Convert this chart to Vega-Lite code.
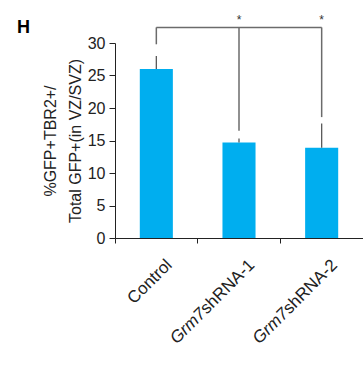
{
  "$schema": "https://vega.github.io/schema/vega-lite/v6.json",
  "width": 248,
  "height": 195,
  "autosize": {"type": "none"},
  "padding": {"left": 115, "top": 43, "right": 0, "bottom": 127},
  "config": {
    "view": {"stroke": null},
    "font": "Liberation Sans",
    "axisY": {"tickCount": 7, "labelOverlap": false, "grid": false, "labelFontSize": 16, "labelColor": "#222222", "labelPadding": 4, "tickSize": 6,
      "domainColor": "#222222", "tickColor": "#222222", "titleFontSize": 16, "titleFontWeight": "normal", "titleColor": "#222222", "titleLineHeight": 25, "titlePadding": 4}
  },
  "title": {"text": "H", "anchor": "start", "frame": "group", "fontSize": 18, "fontWeight": "bold", "font": "Liberation Sans", "dx": -98, "offset": 16, "dy": 39, "color": "#000000"},
  "datasets": {
    "bars": [
      {"group": "Control", "value": 26.0, "upper": 28.0},
      {"group": "Grm7shRNA-1", "value": 14.7, "upper": 15.3},
      {"group": "Grm7shRNA-2", "value": 13.9, "upper": 17.6}
    ],
    "bracket": [{"from": "Control", "to": "Grm7shRNA-2", "level": 32.4}],
    "legs": [
      {"group": "Control", "top": 32.4, "bottom": 29.8},
      {"group": "Grm7shRNA-1", "top": 32.4, "bottom": 16.5},
      {"group": "Grm7shRNA-2", "top": 32.4, "bottom": 18.6}
    ],
    "stars": [
      {"group": "Grm7shRNA-1", "level": 33.6, "sig": "*"},
      {"group": "Grm7shRNA-2", "level": 33.6, "sig": "*"}
    ],
    "labels": [
      {"group": "Control", "pre": "", "post": "Control"},
      {"group": "Grm7shRNA-1", "pre": "Grm7", "post": "shRNA-1"},
      {"group": "Grm7shRNA-2", "pre": "Grm7", "post": "shRNA-2"}
    ]
  },
  "layer": [
    {
      "data": {"name": "bars"},
      "mark": {"type": "bar", "color": "#00AEEF", "width": {"band": 0.4}, "clip": false},
      "encoding": {
        "x": {"field": "group", "type": "nominal",
          "scale": {"domain": ["Control", "Grm7shRNA-1", "Grm7shRNA-2"], "paddingInner": 0, "paddingOuter": 0},
          "axis": {"labels": false, "title": null, "bandPosition": 0, "tickSize": 5, "domainColor": "#222222", "tickColor": "#222222", "grid": false}},
        "y": {"field": "value", "type": "quantitative",
          "scale": {"domain": [0, 30], "nice": false},
          "axis": {"values": [0, 5, 10, 15, 20, 25, 30], "labelOverlap": false, "title": ["%GFP+TBR2+/", "Total GFP+(in VZ/SVZ)"]}}
      }
    },
    {
      "data": {"name": "bars"},
      "mark": {"type": "rule", "color": "#595959", "strokeWidth": 1.3, "clip": false},
      "encoding": {
        "x": {"field": "group", "type": "nominal"},
        "y": {"field": "value", "type": "quantitative"},
        "y2": {"field": "upper"}
      }
    },
    {
      "data": {"name": "legs"},
      "mark": {"type": "rule", "color": "#6b6b6b", "strokeWidth": 1.5, "clip": false},
      "encoding": {
        "x": {"field": "group", "type": "nominal"},
        "y": {"field": "top", "type": "quantitative"},
        "y2": {"field": "bottom"}
      }
    },
    {
      "data": {"name": "bracket"},
      "mark": {"type": "rule", "color": "#6b6b6b", "strokeWidth": 1.5, "clip": false},
      "encoding": {
        "x": {"field": "from", "type": "nominal"},
        "x2": {"field": "to"},
        "y": {"field": "level", "type": "quantitative"}
      }
    },
    {
      "data": {"name": "stars"},
      "mark": {"type": "text", "fontSize": 12, "color": "#333333", "baseline": "middle", "clip": false},
      "encoding": {
        "x": {"field": "group", "type": "nominal"},
        "y": {"field": "level", "type": "quantitative"},
        "text": {"field": "sig"}
      }
    },
    {
      "data": {"name": "labels"},
      "mark": {"type": "text", "fontSize": 17, "color": "#222222", "angle": 315, "align": "right", "baseline": "alphabetic", "clip": false},
      "encoding": {
        "x": {"field": "group", "type": "nominal", "bandPosition": 0.7},
        "y": {"datum": -4.3},
        "text": {"field": "post"}
      }
    },
    {
      "data": {"name": "labels"},
      "mark": {"type": "text", "fontSize": 17, "fontStyle": "italic", "color": "#222222", "angle": 315, "align": "right", "baseline": "alphabetic", "dx": -69, "clip": false},
      "encoding": {
        "x": {"field": "group", "type": "nominal", "bandPosition": 0.7},
        "y": {"datum": -4.3},
        "text": {"field": "pre"}
      }
    }
  ]
}
